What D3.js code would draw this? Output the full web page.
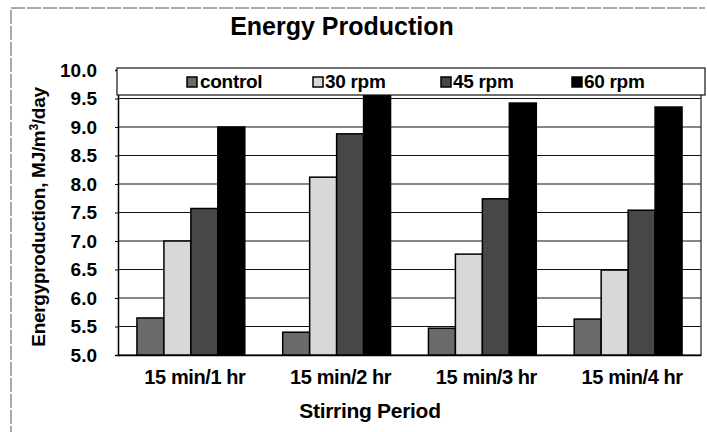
<!DOCTYPE html>
<html>
<head>
<meta charset="utf-8">
<script src="https://cdn.jsdelivr.net/npm/d3@7"></script>
<style>
  body { margin: 0; background: #fff; }
  text { font-family: "Liberation Sans", Arial, sans-serif; font-weight: bold; fill: #000; }
</style>
</head>
<body>
<div id="chart"></div>
<script>
// data
var periods = ["15 min/1 hr", "15 min/2 hr", "15 min/3 hr", "15 min/4 hr"];
var seriesNames = ["control", "30 rpm", "45 rpm", "60 rpm"];
var control = [5.65, 5.40, 5.47, 5.63];
var rpm30 = [7.00, 8.12, 6.77, 6.49];
var rpm45 = [7.57, 8.88, 7.74, 7.54];
var rpm60 = [9.00, 9.65, 9.42, 9.35];
var yTicks = [5.0, 5.5, 6.0, 6.5, 7.0, 7.5, 8.0, 8.5, 9.0, 9.5, 10.0];
var fills = ["#6a6a6a", "#d8d8d8", "#474747", "#000000"];

var seriesValues = [control, rpm30, rpm45, rpm60];

var width = 707, height = 432;
var plot = {left: 118, right: 701, top: 70, bottom: 355};

var svg = d3.select("#chart")
    .append("svg")
    .attr("width", width)
    .attr("height", height);

// outer frame of the scanned figure
svg.append("path")
    .attr("d", "M11,440 L11,8 L705,8")
    .attr("fill", "none")
    .attr("stroke", "#555")
    .attr("stroke-width", 1)
    .attr("stroke-dasharray", "14,2");

// scales
var x0 = d3.scaleBand()
    .domain(periods)
    .range([plot.left, plot.right])
    .paddingInner(0.26)
    .paddingOuter(0.13);

var x1 = d3.scaleBand()
    .domain(seriesNames)
    .range([0, x0.bandwidth()]);

var y = d3.scaleLinear()
    .domain([5, 10])
    .range([plot.bottom, plot.top]);

// gridlines
svg.append("g")
    .selectAll("line")
    .data(yTicks)
    .enter()
    .append("line")
    .attr("x1", plot.left)
    .attr("x2", plot.right)
    .attr("y1", function(d) { return y(d); })
    .attr("y2", function(d) { return y(d); })
    .attr("stroke", "#111")
    .attr("stroke-width", 1.2);

// right edge of the plot
svg.append("line")
    .attr("x1", plot.right).attr("x2", plot.right)
    .attr("y1", plot.top).attr("y2", plot.bottom)
    .attr("stroke", "#222").attr("stroke-width", 1.2);

// y axis
var yAxis = svg.append("g")
    .attr("transform", "translate(" + plot.left + ",0)")
    .call(d3.axisLeft(y).tickValues(yTicks).tickFormat(d3.format(".1f")).tickSize(3).tickPadding(18));
yAxis.select(".domain").attr("stroke", "#000").attr("stroke-width", 1.5);
yAxis.selectAll("line").attr("stroke", "#000");
yAxis.selectAll("text")
    .attr("font-size", "19px")
    .attr("font-family", "Liberation Sans, Arial, sans-serif")
    .attr("font-weight", "bold");

// x axis
var xAxis = svg.append("g")
    .attr("transform", "translate(0," + plot.bottom + ")")
    .call(d3.axisBottom(x0).tickSize(0).tickPadding(15));
xAxis.select(".domain").attr("stroke", "#000").attr("stroke-width", 1.5);
xAxis.selectAll("text")
    .attr("font-size", "20px")
    .attr("font-family", "Liberation Sans, Arial, sans-serif")
    .attr("font-weight", "bold")
    .attr("letter-spacing", "-0.4px")
    .attr("dx", "4");

// bars
var groups = svg.append("g")
    .selectAll("g")
    .data(periods)
    .enter()
    .append("g")
    .attr("transform", function(d) { return "translate(" + x0(d) + ",0)"; });

groups.selectAll("rect")
    .data(function(d, i) {
      return seriesNames.map(function(s, j) { return {series: s, idx: j, value: seriesValues[j][i]}; });
    })
    .enter()
    .append("rect")
    .attr("x", function(d) { return x1(d.series); })
    .attr("y", function(d) { return y(d.value); })
    .attr("width", x1.bandwidth())
    .attr("height", function(d) { return plot.bottom - y(d.value); })
    .attr("fill", function(d) { return fills[d.idx]; })
    .attr("stroke", "#000")
    .attr("stroke-width", 1.5);

// legend box sits over the top of the plot
var legend = svg.append("g");
legend.append("rect")
    .attr("x", 117).attr("y", 68)
    .attr("width", 588).attr("height", 27)
    .attr("fill", "#fff")
    .attr("stroke", "#111")
    .attr("stroke-width", 1.2);

var legendX = [187, 313, 441, 572];
var items = legend.selectAll(".item")
    .data(seriesNames)
    .enter()
    .append("g")
    .attr("class", "item")
    .attr("transform", function(d, i) { return "translate(" + legendX[i] + ",77)"; });
items.append("rect")
    .attr("width", 10).attr("height", 10)
    .attr("fill", function(d, i) { return fills[i]; })
    .attr("stroke", "#000")
    .attr("stroke-width", 1.5);
items.append("text")
    .attr("x", function(d, i) { return i == 0 ? 13 : 12; })
    .attr("y", 11)
    .attr("font-size", "19px")
    .attr("letter-spacing", "-0.3px")
    .text(function(d) { return d; });

// title
svg.append("text")
    .attr("x", 342)
    .attr("y", 35)
    .attr("font-size", "25px")
    .attr("text-anchor", "middle")
    .text("Energy Production");

// axis titles
svg.append("text")
    .attr("x", 370)
    .attr("y", 418)
    .attr("font-size", "21px")
    .attr("letter-spacing", "-0.3px")
    .attr("text-anchor", "middle")
    .text("Stirring Period");

svg.append("text")
    .attr("transform", "translate(45,217) rotate(-90)")
    .attr("font-size", "19px")
    .attr("letter-spacing", "-0.3px")
    .attr("text-anchor", "middle")
    .html("Energyproduction, MJ/m<tspan dy='-7' font-size='12px'>3</tspan><tspan dy='7'>/day</tspan>");
</script>
</body>
</html>
